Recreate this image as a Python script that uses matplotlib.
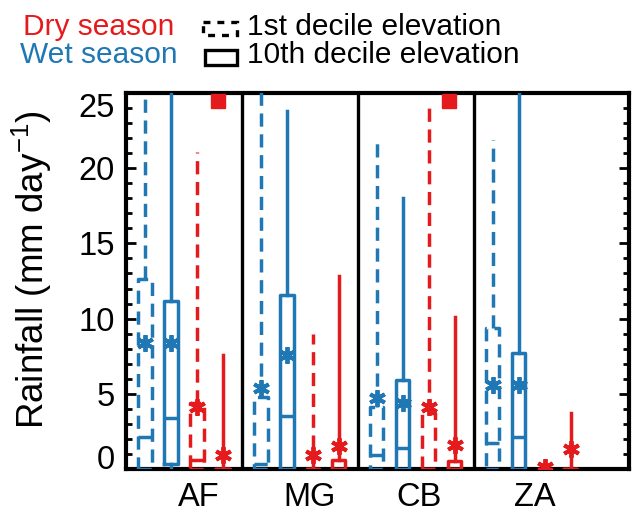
import numpy as np
import matplotlib.pyplot as plt
from matplotlib.patches import Rectangle
from matplotlib.ticker import MultipleLocator

plt.rcParams['font.family'] = ['Liberation Sans', 'DejaVu Sans']
plt.rcParams['mathtext.fontset'] = 'custom'
plt.rcParams['mathtext.rm'] = 'Liberation Sans'
plt.rcParams['mathtext.default'] = 'regular'
plt.rcParams['lines.scale_dashes'] = False

# regions along the x axis
regions = ['AF', 'MG', 'CB', 'ZA']
# series order: wet 1st decile, wet 10th decile, dry 1st decile, dry 10th decile
q1 = [[0, 0, 0, 0],
      [0.3, 0, 0, 0],
      [0, 0, 0, 0],
      [0, 0, 0, 0]]
median = [[2.1, 0.3, 0.9, 1.7],
          [3.4, 3.5, 1.4, 2.1],
          [0.6, 0, 0, 0],
          [0, 0, 0, 0]]
q3 = [[12.6, 4.8, 4.1, 9.4],
      [11.2, 11.6, 5.9, 7.7],
      [4.4, 0, 3.7, 0],
      [0, 0.6, 0.5, 0]]
whisker_hi = [[27, 27, 21.9, 21.9],
              [27, 23.8, 18.0, 27],
              [21.1, 9.0, 24.5, 0],
              [7.6, 12.8, 10.1, 3.7]]
mean = [[8.4, 5.4, 4.7, 5.6],
        [8.4, 7.6, 4.4, 5.6],
        [4.1, 0.9, 4.1, 0.1],
        [0.9, 1.5, 1.6, 1.3]]
# red squares near the top
sig_regions = [0, 2]
sig_y = [24.5, 24.5]

red = '#e41a1c'
blue = '#1f78b4'
colors = [blue, blue, red, red]
dash = (0, (9.5, 5.5))
styles = [dash, '-', dash, '-']
offsets = [-0.336, -0.112, 0.112, 0.336]

fig = plt.figure(figsize=(6.43, 5.13), dpi=100)
ax = fig.add_axes([126 / 643, 1 - 469 / 513, 503 / 643, 376 / 513])

for s in range(4):
    stats = [dict(q1=q1[s][g], med=median[s][g], q3=q3[s][g], whislo=0,
                  whishi=whisker_hi[s][g], mean=mean[s][g], fliers=[])
             for g in range(len(regions))]
    lp = dict(color=colors[s], linewidth=2.5, linestyle=styles[s])
    ax.bxp(stats, positions=np.arange(len(regions)) + offsets[s], widths=0.115,
           showmeans=True, showcaps=False, showfliers=False,
           boxprops=lp, whiskerprops=lp, medianprops=lp,
           meanprops=dict(marker=(6, 2, 0), markeredgecolor=colors[s],
                          markerfacecolor=colors[s], markersize=12,
                          markeredgewidth=2.8, linestyle='none'),
           manage_ticks=False, zorder=3)

ax.plot(np.array(sig_regions) + 0.29, sig_y, 's', color=red, markersize=10,
        clip_on=False, zorder=4)

for x in [0.5, 1.5, 2.5]:
    ax.axvline(x, color='black', linewidth=2.4, zorder=2)

ax.set_xlim(-0.5, 3.84)
ax.set_ylim(0, 25)
for sp in ax.spines.values():
    sp.set_linewidth(3)

ax.set_xticks([0.13, 1.08, 2.03, 3.03], regions)
ax.tick_params(axis='x', length=0, pad=9, labelsize=23.5)
ax.set_yticks(range(0, 26, 5))
ax.yaxis.set_minor_locator(MultipleLocator(1))
ax.tick_params(axis='y', which='both', direction='in', left=True, right=True,
               width=2, labelsize=23.5, pad=8)
ax.tick_params(axis='y', which='major', length=7.5)
ax.tick_params(axis='y', which='minor', length=4)
ylabels = ax.get_yticklabels()
ylabels[0].set_va('baseline')
ylabels[-1].set_va('top')

ax.set_ylabel('Rainfall (mm day$^{-1}$)', fontsize=26.5)
ax.yaxis.set_label_coords(-0.143, 0.53)

# legend drawn in pixel coordinates
lg = fig.add_axes([0, 0, 1, 1], zorder=5)
lg.set_xlim(0, 643)
lg.set_ylim(513, 0)
lg.axis('off')
lg.text(98.5, 35, 'Dry season', color=red, fontsize=21.5, ha='center', va='baseline')
lg.text(98.5, 63, 'Wet season', color=blue, fontsize=21.5, ha='center', va='baseline')
lg.add_patch(Rectangle((203, 22), 34, 13, fill=False, edgecolor='black',
                       linewidth=2.4, linestyle=(0, (5, 5))))
lg.add_patch(Rectangle((205, 50), 32, 15, fill=False, edgecolor='black', linewidth=2.4))
lg.text(247, 35, '1st decile elevation', fontsize=21.5, ha='left', va='baseline')
lg.text(247, 63, '10th decile elevation', fontsize=21.5, ha='left', va='baseline')

fig.savefig('out.png', dpi=100)
